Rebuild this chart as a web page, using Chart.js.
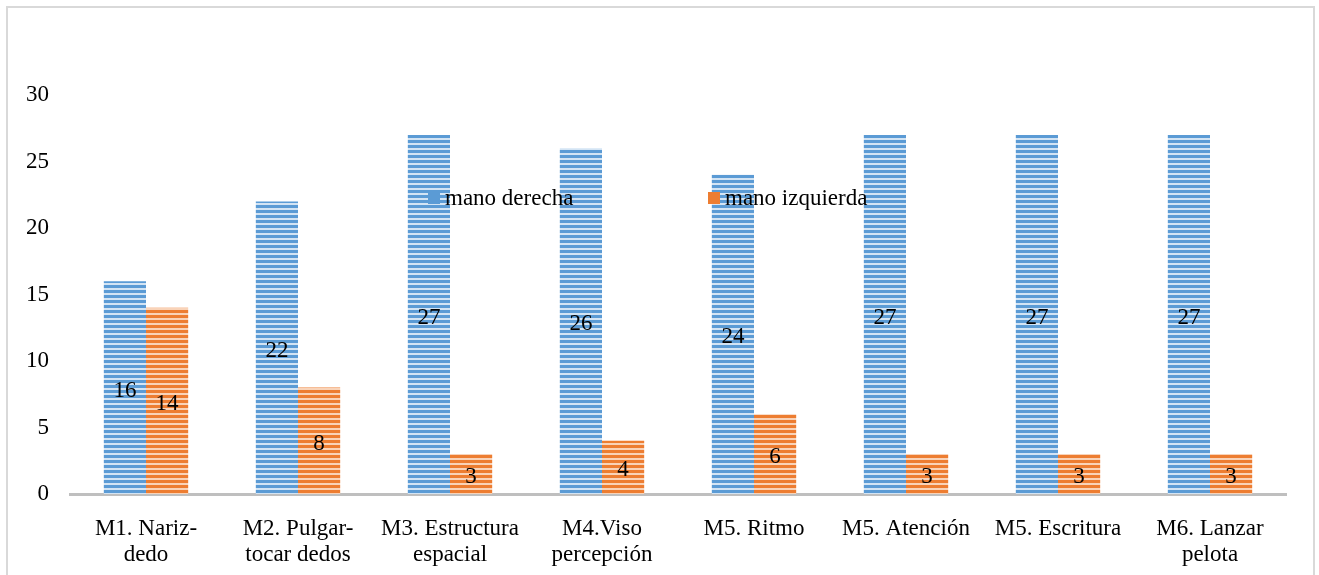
<!DOCTYPE html>
<html>
<head>
<meta charset="utf-8">
<script src="https://cdn.jsdelivr.net/npm/chart.js@4/dist/chart.umd.min.js"></script>
<style>
  html, body { margin: 0; padding: 0; background: #fff; }
  #wrap { position: relative; width: 1319px; height: 575px; overflow: hidden; }
  #frame {
    position: absolute; left: 6px; top: 6px; width: 1305px; height: 600px;
    border: 2px solid #d9d9d9; pointer-events: none;
  }
</style>
</head>
<body>
<div id="wrap">
  <canvas id="chart" width="1319" height="575"></canvas>
  <div id="frame"></div>
</div>
<script>
// categories (multi-line labels)
const categories = [
  ['M1. Nariz-', 'dedo'],
  ['M2. Pulgar-', 'tocar dedos'],
  ['M3. Estructura', 'espacial'],
  ['M4.Viso', 'percepción'],
  ['M5. Ritmo'],
  ['M5. Atención'],
  ['M5. Escritura'],
  ['M6. Lanzar', 'pelota'],
];
const manoDerecha = [16, 22, 27, 26, 24, 27, 27, 27];
const manoIzquierda = [14, 8, 3, 4, 6, 3, 3, 3];
const yTicks = [0, 5, 10, 15, 20, 25, 30];

const FONT = '"Liberation Serif", "Times New Roman", serif';

// horizontal striped fill like the original
function stripes(color, light) {
  const c = document.createElement('canvas');
  c.width = 4;
  c.height = 5;
  const g = c.getContext('2d');
  g.fillStyle = light;
  g.fillRect(0, 0, 4, 5);
  g.fillStyle = color;
  g.fillRect(0, 0, 4, 3);
  return g.createPattern(c, 'repeat');
}

// value written in the middle of each bar
const barValues = {
  id: 'barValues',
  afterDatasetsDraw(chart) {
    const ctx = chart.ctx;
    ctx.save();
    ctx.font = '23px ' + FONT;
    ctx.fillStyle = '#000';
    ctx.textAlign = 'center';
    ctx.textBaseline = 'middle';
    chart.data.datasets.forEach((ds, i) => {
      chart.getDatasetMeta(i).data.forEach((bar, j) => {
        ctx.fillText(String(ds.data[j]), bar.x, (bar.y + bar.base) / 2 + 3);
      });
    });
    ctx.restore();
  },
};

// legend drawn inside the plot, over the bars
const innerLegend = {
  id: 'innerLegend',
  afterDraw(chart, args, opts) {
    const ctx = chart.ctx;
    ctx.save();
    ctx.font = '23px ' + FONT;
    ctx.textBaseline = 'middle';
    chart.data.datasets.forEach((ds, i) => {
      const x = opts.xs[i];
      const y = opts.y;
      ctx.fillStyle = ds.legendColor;
      ctx.fillRect(x, y - 6, 12, 12);
      ctx.fillStyle = '#000';
      ctx.fillText(ds.label, x + 17, y + 1);
    });
    ctx.restore();
  },
};

const ctx = document.getElementById('chart').getContext('2d');
new Chart(ctx, {
  type: 'bar',
  data: {
    labels: categories,
    datasets: [
      {
        label: 'mano derecha',
        data: manoDerecha,
        backgroundColor: stripes('#5B9BD5', '#D3E4F4'),
        legendColor: '#5B9BD5',
        borderWidth: 0,
      },
      {
        label: 'mano izquierda',
        data: manoIzquierda,
        backgroundColor: stripes('#ED7D31', '#F9D3B8'),
        legendColor: '#ED7D31',
        borderWidth: 0,
      },
    ],
  },
  options: {
    responsive: false,
    animation: false,
    devicePixelRatio: 1,
    layout: {padding: {left: 5, right: 33, top: 95, bottom: -15}},
    datasets: {
      bar: {barPercentage: 1, categoryPercentage: 0.555},
    },
    plugins: {
      legend: {display: false},
      tooltip: {enabled: false},
      innerLegend: {xs: [428, 708], y: 198},
    },
    scales: {
      x: {
        grid: {display: false, drawTicks: false},
        border: {display: true, color: '#bfbfbf', width: 3},
        ticks: {
          color: '#000',
          padding: 22,
          maxRotation: 0,
          autoSkip: false,
          font: {family: FONT, size: 23, lineHeight: 1.13},
        },
      },
      y: {
        min: 0,
        max: 30,
        afterBuildTicks(scale) {
          scale.ticks = yTicks.map((v) => ({value: v}));
        },
        grid: {display: false, drawTicks: false},
        border: {display: false},
        ticks: {
          color: '#000',
          padding: 21,
          font: {family: FONT, size: 23},
        },
      },
    },
  },
  plugins: [barValues, innerLegend],
});
</script>
</body>
</html>
